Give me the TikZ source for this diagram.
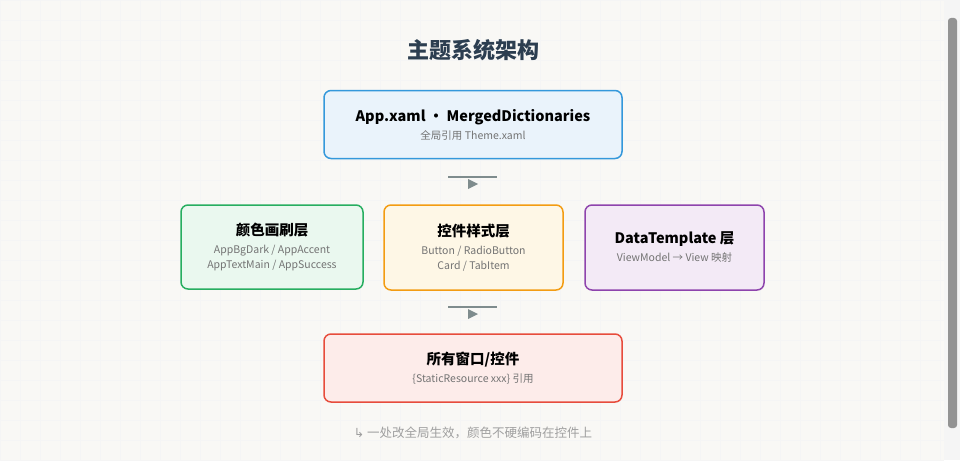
\documentclass[tikz,border=0pt]{standalone}
\usepackage{fontspec}
\setmainfont{Noto Sans CJK SC}
\newfontfamily\dejavu{DejaVu Sans}
\definecolor{cb}{HTML}{3498DB}\definecolor{fb}{HTML}{EAF3FB}
\definecolor{cg}{HTML}{27AE60}\definecolor{fg}{HTML}{EAF8EF}
\definecolor{co}{HTML}{F39C12}\definecolor{fo}{HTML}{FEF7E6}
\definecolor{cp}{HTML}{8E44AD}\definecolor{fp}{HTML}{F3EAF6}
\definecolor{cr}{HTML}{E74C3C}\definecolor{fr}{HTML}{FDECEA}
\definecolor{ttl}{HTML}{2C3E50}\definecolor{bg}{HTML}{F9F8F5}
\definecolor{sb}{HTML}{7F8C8D}
\newcommand{\bx}[3]{\parbox{#1}{\centering{\fontsize{14.5}{17}\selectfont\bfseries #2}\par\vspace{3pt}{\fontsize{10.5}{15}\selectfont\color{gray!90!black}#3\par}}}
\begin{document}
\begin{tikzpicture}[x=1pt,y=-1pt,
  box/.style={draw, line width=1.5pt, rounded corners=7pt, minimum height=68pt, align=center, inner sep=0pt},
  conn/.style={draw=sb, line width=2.2pt}]
\useasboundingbox (0,0) rectangle (960,460);
\fill[bg] (0,0) rectangle (960,460);
\draw[black!4, line width=0.6pt] (0,0) grid[step=20pt] (944,460);
\fill[white!96!black] (944,0) rectangle (960,460);
\fill[gray!85, rounded corners=3pt] (948,18) rectangle (957,428);
\node[font=\fontsize{22}{26}\selectfont\bfseries, text=ttl] (title) at (473,50) {主题系统架构};
\node[box, draw=cb, fill=fb, minimum width=298pt] (app) at (473,124.5)
  {\bx{290pt}{App.xaml • MergedDictionaries}{全局引用 Theme.xaml}};
\node[box, draw=cg, fill=fg, minimum width=182pt, minimum height=84pt] (color) at (272,247)
  {\bx{175pt}{颜色画刷层}{AppBgDark / AppAccent\\AppTextMain / AppSuccess}};
\node[box, draw=co, fill=fo, minimum width=179pt, minimum height=85pt] (style) at (473.5,247.5)
  {\bx{170pt}{控件样式层}{Button / RadioButton\\Card / TabItem}};
\node[box, draw=cp, fill=fp, minimum width=179pt, minimum height=85pt] (dt) at (674.5,247.5)
  {\raisebox{8pt}{\bx{170pt}{DataTemplate 层}{ViewModel → View 映射}}};
\node[box, draw=cr, fill=fr, minimum width=298pt] (win) at (473,368)
  {\bx{290pt}{所有窗口/控件}{\{StaticResource xxx\} 引用}};
\coordinate (a1) at (448,177); \coordinate (a2) at (497,177);
\draw[conn] (a1) -- (a2);
\fill[sb] (468,179) -- (478,184) -- (468,189) -- cycle;
\coordinate (b1) at (448,307); \coordinate (b2) at (497,307);
\draw[conn] (b1) -- (b2);
\fill[sb] (468,309) -- (478,314) -- (468,319) -- cycle;
\node[font=\fontsize{12.5}{14}\selectfont, text=gray!75] (foot) at (473,433) {{\dejavu ↳} 一处改全局生效，颜色不硬编码在控件上};
\end{tikzpicture}
\end{document}
